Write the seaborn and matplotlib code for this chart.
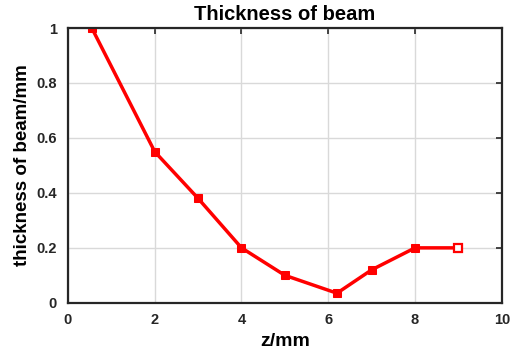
import matplotlib
matplotlib.use("Agg")
import matplotlib.pyplot as plt
import seaborn as sns
import pandas as pd

# Beam thickness measured along the propagation axis
z_mm = [0.55, 2.0, 3.0, 4.0, 5.0, 6.2, 7.0, 8.0, 9.0]
thickness_mm = [1.0, 0.55, 0.38, 0.2, 0.1, 0.035, 0.12, 0.2, 0.2]

x_ticks = [0, 2, 4, 6, 8, 10]
y_ticks = [0, 0.2, 0.4, 0.6, 0.8, 1]

df = pd.DataFrame({"z": z_mm, "thickness": thickness_mm})

sns.set_theme(style="white")
plt.rcParams["font.family"] = ["Liberation Sans", "DejaVu Sans"]
plt.rcParams["font.weight"] = "bold"

fig = plt.figure(figsize=(5.11, 3.55), dpi=100)
ax = fig.add_axes([0.133, 0.147, 0.849, 0.774])

sns.lineplot(data=df, x="z", y="thickness", ax=ax, color="#ff0000",
             linewidth=2.5, marker="s", markersize=5.5,
             markeredgecolor="#ff0000", estimator=None, sort=False)
# last sample drawn with an open marker
ax.plot(z_mm[-1:], thickness_mm[-1:], linestyle="none", marker="s",
        markersize=5.5, markerfacecolor="white", markeredgecolor="#ff0000",
        markeredgewidth=1.6, zorder=5)

ax.set_xlim(0, 10)
ax.set_ylim(0, 1)
ax.set_xticks(x_ticks)
ax.set_yticks(y_ticks)
ax.set_xticklabels([f"{t:g}" for t in x_ticks])
ax.set_yticklabels([f"{t:g}" for t in y_ticks])
ax.grid(True, color="#d9d9d9", linewidth=1.0)
ax.set_axisbelow(True)
for s in ax.spines.values():
    s.set_visible(True)
    s.set_color("#262626")
    s.set_linewidth(1.6)
ax.tick_params(direction="in", length=4, width=1.2, color="#262626",
               top=True, right=True, labelsize=10.5, labelcolor="#262626")
ax.tick_params(axis="y", pad=8)
ax.tick_params(axis="x", pad=7)

ax.set_title("Thickness of beam", fontsize=14.5, fontweight="bold",
             color="black", pad=6)
ax.set_xlabel("z/mm", fontsize=14, fontweight="bold", color="black",
              labelpad=5)
ax.set_ylabel("thickness of beam/mm", fontsize=13.5, fontweight="bold",
              color="black", labelpad=4)

fig.savefig("out.png", dpi=100)
